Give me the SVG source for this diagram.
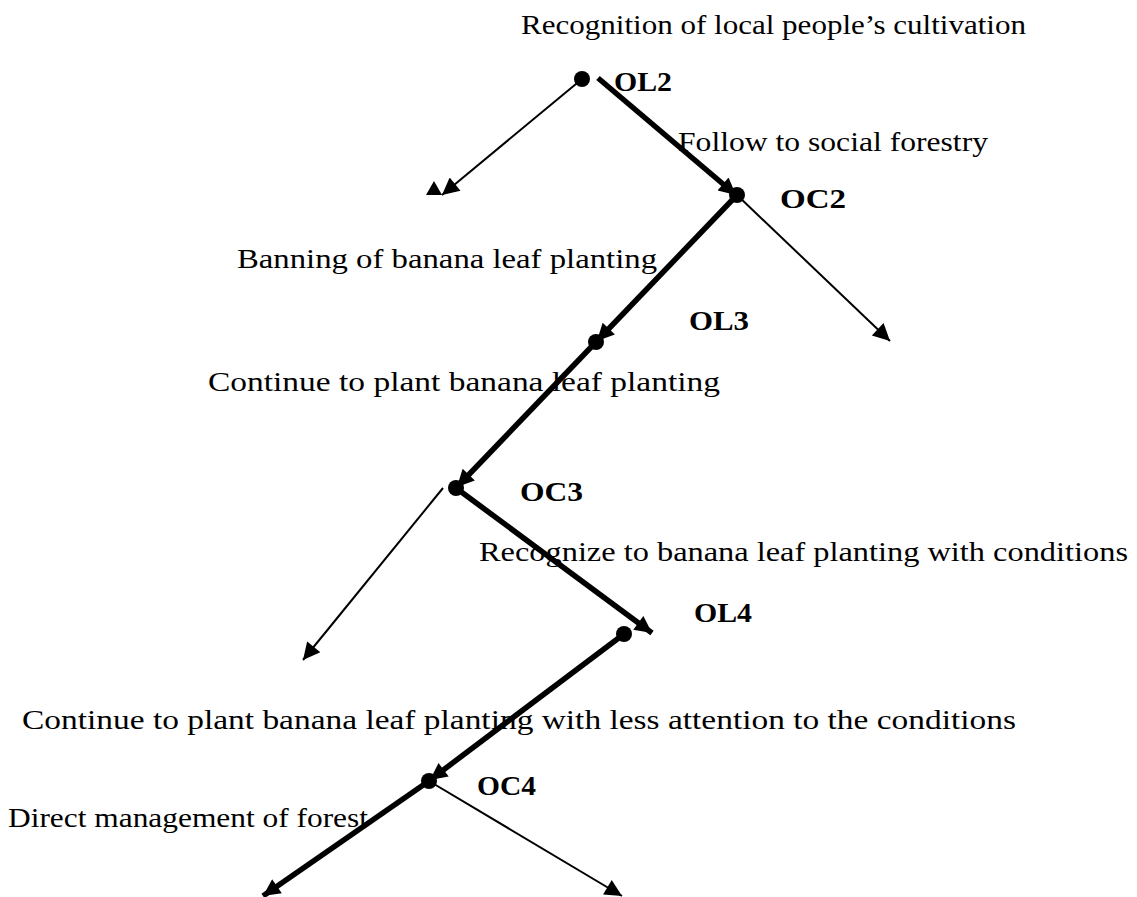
<svg xmlns="http://www.w3.org/2000/svg" width="1137" height="897" viewBox="0 0 1137 897">
<defs>
<style>
.t{font-family:"Liberation Serif","DejaVu Serif",serif;font-size:27px;fill:#000}
.b{font-family:"Liberation Serif","DejaVu Serif",serif;font-size:27px;font-weight:bold;fill:#000}
.thin{stroke:#000;stroke-width:2;fill:none}
.thick{stroke:#000;stroke-width:5.5;fill:none}
.dot{fill:#000}
</style>
<marker id="ah" viewBox="0 0 10 10" refX="10" refY="5" markerWidth="22" markerHeight="17" markerUnits="userSpaceOnUse" orient="auto"><path d="M0,0 L10,5 L0,10 Z" fill="#000"/></marker>
</defs>
<rect width="1137" height="897" fill="#fff"/>
<g id="connectors">
<line class="thin" x1="582" y1="79" x2="442" y2="195" marker-end="url(#ah)"/>
<polygon points="426,195 434,181 442,195" fill="#000"/>
<line class="thick" x1="598" y1="78" x2="736" y2="195" marker-end="url(#ah)"/>
<line class="thin" x1="737" y1="195" x2="890" y2="341" marker-end="url(#ah)"/>
<line class="thick" x1="737" y1="195" x2="597" y2="341" marker-end="url(#ah)"/>
<line class="thick" x1="596" y1="342" x2="457" y2="487" marker-end="url(#ah)"/>
<line class="thin" x1="443" y1="488" x2="303" y2="660" marker-end="url(#ah)"/>
<line class="thick" x1="456" y1="488" x2="652" y2="633" marker-end="url(#ah)"/>
<line class="thick" x1="624" y1="634" x2="430" y2="780" marker-end="url(#ah)"/>
<line class="thick" x1="429" y1="781" x2="263" y2="896" marker-end="url(#ah)"/>
<line class="thin" x1="429" y1="781" x2="622" y2="896" marker-end="url(#ah)"/>
</g>
<g id="OL2"><circle class="dot" cx="582" cy="79" r="8"/><text class="b" x="614" y="91" textLength="58" lengthAdjust="spacingAndGlyphs">OL2</text></g>
<g id="OC2"><circle class="dot" cx="737" cy="195" r="8"/><text class="b" x="780" y="208" textLength="66" lengthAdjust="spacingAndGlyphs">OC2</text></g>
<g id="OL3"><circle class="dot" cx="596" cy="342" r="8"/><text class="b" x="689" y="330" textLength="60" lengthAdjust="spacingAndGlyphs">OL3</text></g>
<g id="OC3"><circle class="dot" cx="456" cy="488" r="8"/><text class="b" x="520" y="501" textLength="63" lengthAdjust="spacingAndGlyphs">OC3</text></g>
<g id="OL4"><circle class="dot" cx="624" cy="634" r="8"/><text class="b" x="694" y="622" textLength="58" lengthAdjust="spacingAndGlyphs">OL4</text></g>
<g id="OC4"><circle class="dot" cx="429" cy="781" r="8"/><text class="b" x="477" y="795" textLength="59" lengthAdjust="spacingAndGlyphs">OC4</text></g>
<g id="labels">
<text class="t" x="521" y="34" textLength="505" lengthAdjust="spacingAndGlyphs">Recognition of local people’s cultivation</text>
<text class="t" x="678" y="151" textLength="310" lengthAdjust="spacingAndGlyphs">Follow to social forestry</text>
<text class="t" x="237" y="268" textLength="420" lengthAdjust="spacingAndGlyphs">Banning of banana leaf planting</text>
<text class="t" x="208" y="391" textLength="512" lengthAdjust="spacingAndGlyphs">Continue to plant banana leaf planting</text>
<text class="t" x="479" y="561" textLength="649" lengthAdjust="spacingAndGlyphs">Recognize to banana leaf planting with conditions</text>
<text class="t" x="22" y="729" textLength="994" lengthAdjust="spacingAndGlyphs">Continue to plant banana leaf planting with less attention to the conditions</text>
<text class="t" x="8" y="827" textLength="360" lengthAdjust="spacingAndGlyphs">Direct management of forest</text>
</g>
</svg>
